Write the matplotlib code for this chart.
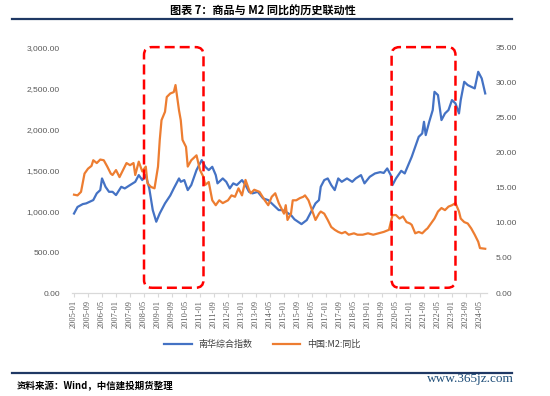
import matplotlib
matplotlib.use("Agg")
import matplotlib.pyplot as plt
from matplotlib.patches import FancyBboxPatch
import numpy as np

plt.rcParams['font.family'] = ['Noto Sans CJK SC', 'DejaVu Sans']

# 南华综合指数 (left axis)
nanhua_dates = ["2005-01", "2005-03", "2005-06", "2005-08", "2005-10", "2005-12", "2006-02", "2006-04",
                "2006-05", "2006-07", "2006-09", "2006-11", "2007-01", "2007-04", "2007-06", "2007-09",
                "2007-12", "2008-02", "2008-04", "2008-06", "2008-08", "2008-10", "2008-12", "2009-02",
                "2009-05", "2009-08", "2009-10", "2010-01", "2010-02", "2010-04", "2010-06", "2010-08",
                "2010-11", "2011-02", "2011-04", "2011-06", "2011-08", "2011-10", "2011-11", "2012-02",
                "2012-04", "2012-06", "2012-08", "2012-10", "2013-01", "2013-03", "2013-05", "2013-07",
                "2013-10", "2014-01", "2014-04", "2014-07", "2014-10", "2014-12", "2015-02", "2015-05",
                "2015-07", "2015-11", "2016-02", "2016-05", "2016-07", "2016-09", "2016-10", "2016-12",
                "2017-02", "2017-04", "2017-06", "2017-08", "2017-10", "2018-01", "2018-04", "2018-06",
                "2018-09", "2018-11", "2019-02", "2019-05", "2019-08", "2019-10", "2019-12", "2020-02",
                "2020-03", "2020-05", "2020-08", "2020-10", "2020-12", "2021-02", "2021-04", "2021-06",
                "2021-08", "2021-09", "2021-10", "2021-12", "2022-02", "2022-03", "2022-05", "2022-07",
                "2022-09", "2022-11", "2023-01", "2023-03", "2023-05", "2023-06", "2023-08", "2023-10",
                "2023-12", "2024-02", "2024-04", "2024-06", "2024-08"]
nanhua_vals = [970, 1050, 1085, 1094, 1114, 1134, 1216, 1256,
               1398, 1296, 1235, 1235, 1195, 1296, 1276, 1317,
               1357, 1439, 1378, 1439, 1276, 1012, 870, 972,
               1094, 1190, 1276, 1398, 1357, 1378, 1256, 1317,
               1500, 1622, 1540, 1500, 1540, 1439, 1338, 1398,
               1357, 1276, 1338, 1317, 1378, 1317, 1235, 1216,
               1235, 1155, 1134, 1073, 1012, 1012, 991, 951,
               899, 841, 890, 1012, 1094, 1134, 1296, 1378,
               1398, 1317, 1256, 1398, 1357, 1398, 1357, 1398,
               1439, 1338, 1418, 1459, 1475, 1465, 1520, 1439,
               1317, 1398, 1491, 1459, 1561, 1662, 1784, 1906,
               1947, 2089, 1927, 2089, 2232, 2455, 2415, 2110,
               2191, 2232, 2354, 2313, 2191, 2354, 2577, 2537,
               2516, 2496, 2699, 2618, 2435]

# 中国:M2:同比 (right axis, %)
m2_dates = ["2005-01", "2005-03", "2005-05", "2005-07", "2005-09", "2005-11", "2005-12", "2006-02",
            "2006-04", "2006-06", "2006-08", "2006-10", "2006-11", "2007-01", "2007-03", "2007-05",
            "2007-07", "2007-09", "2007-11", "2007-12", "2008-02", "2008-04", "2008-06", "2008-07",
            "2008-09", "2008-11", "2009-01", "2009-02", "2009-03", "2009-05", "2009-06", "2009-08",
            "2009-10", "2009-11", "2010-01", "2010-02", "2010-03", "2010-05", "2010-06", "2010-08",
            "2010-11", "2011-01", "2011-03", "2011-04", "2011-06", "2011-08", "2011-10", "2011-12",
            "2012-02", "2012-05", "2012-07", "2012-09", "2012-11", "2013-01", "2013-03", "2013-05",
            "2013-06", "2013-08", "2013-11", "2014-02", "2014-04", "2014-06", "2014-08", "2014-10",
            "2015-01", "2015-02", "2015-03", "2015-05", "2015-06", "2015-08", "2015-10", "2015-12",
            "2016-01", "2016-03", "2016-05", "2016-07", "2016-09", "2016-10", "2016-12", "2017-02",
            "2017-04", "2017-06", "2017-08", "2017-10", "2017-12", "2018-02", "2018-05", "2018-07",
            "2018-10", "2019-01", "2019-04", "2019-07", "2019-10", "2020-01", "2020-03", "2020-05",
            "2020-07", "2020-09", "2020-11", "2021-01", "2021-02", "2021-04", "2021-06", "2021-08",
            "2021-10", "2021-11", "2022-01", "2022-03", "2022-05", "2022-07", "2022-09", "2022-11",
            "2023-01", "2023-03", "2023-05", "2023-06", "2023-08", "2023-10", "2023-12", "2024-02",
            "2024-04", "2024-05", "2024-08"]
m2_vals = [14.0, 13.9, 14.4, 17.0, 17.7, 18.1, 18.9, 18.5,
           19.0, 18.9, 18.0, 17.0, 16.8, 17.5, 16.5, 17.5,
           18.5, 18.2, 18.5, 16.8, 18.7, 17.3, 18.0, 15.6,
           15.1, 14.9, 18.0, 21.8, 24.6, 25.8, 27.9, 28.4,
           28.6, 29.6, 26.0, 24.6, 21.8, 20.8, 18.0, 18.9,
           19.6, 17.5, 16.5, 15.4, 15.8, 13.2, 12.5, 13.2,
           12.8, 13.2, 13.9, 13.7, 14.9, 13.9, 16.1, 14.7,
           14.2, 14.7, 14.4, 13.2, 12.5, 13.7, 14.2, 12.8,
           11.3, 12.5, 10.4, 11.3, 13.2, 13.2, 13.5, 13.7,
           13.9, 13.2, 11.8, 10.4, 11.3, 11.6, 11.3, 10.4,
           9.4, 9.0, 8.7, 8.5, 8.7, 8.3, 8.5, 8.3,
           8.3, 8.5, 8.3, 8.5, 8.7, 9.0, 11.1, 11.1,
           10.6, 10.9, 10.1, 9.9, 9.7, 8.5, 8.7, 8.5,
           9.0, 9.2, 9.9, 10.6, 11.6, 12.1, 11.8, 12.3,
           12.5, 12.8, 11.6, 10.6, 10.1, 9.9, 9.2, 8.3,
           7.3, 6.4, 6.3]


def month_index(dates):
    return np.array([(int(d[:4]) - 2005) * 12 + int(d[5:]) - 1 for d in dates])


blue = "#4472C4"
orange = "#ED7D31"
navy = "#1F3864"

fig = plt.figure(figsize=(5.5, 3.96), dpi=100)
ax = fig.add_axes([0.1314, 0.260, 0.754, 0.621])
ax2 = ax.twinx()

ax.plot(month_index(nanhua_dates), nanhua_vals, color=blue, lw=1.6, label="南华综合指数")
ax2.plot(month_index(m2_dates), m2_vals, color=orange, lw=1.6, label="中国:M2:同比")

ax.set_xlim(-1, 236)
ax.set_ylim(0, 3000)
ax2.set_ylim(0, 35)
ax.set_yticks(np.arange(0, 3001, 500))
ax.set_yticklabels([f"{v:,.2f}" for v in np.arange(0, 3001, 500)])
ax2.set_yticks(np.arange(0, 36, 5))
ax2.set_yticklabels([f"{v:.2f}" for v in np.arange(0, 36, 5)])

ticks = np.arange(0, 236, 8)
ax.set_xticks(ticks)
ax.set_xticklabels([f"{2005 + m // 12}-{m % 12 + 1:02d}" for m in ticks], rotation=90,
                   family="Liberation Serif", fontsize=6, color="#595959")

for a in (ax, ax2):
    for s in ("top", "left", "right"):
        a.spines[s].set_visible(False)
    a.spines["bottom"].set_color("#D9D9D9")
    a.tick_params(axis="y", length=0, labelsize=6, labelcolor="#595959")
ax.tick_params(axis="y", pad=9)
ax2.tick_params(axis="y", pad=6)
ax.tick_params(axis="x", length=3, color="#D9D9D9", pad=2)
for lab in ax.get_yticklabels() + ax2.get_yticklabels():
    lab.set_family("Liberation Sans")

# red dashed rounded boxes
for x0, x1 in [(40, 74), (181.5, 218)]:
    box = FancyBboxPatch((x0, 0.75), x1 - x0, 34.25,
                         boxstyle="round,pad=0,rounding_size=4.5",
                         mutation_aspect=0.249, fill=False, ec="#FF0000",
                         lw=1.8, ls=(0, (4, 2)), clip_on=False, zorder=5)
    ax2.add_patch(box)

h1, l1 = ax.get_legend_handles_labels()
h2, l2 = ax2.get_legend_handles_labels()
fig.legend(h1 + h2, l1 + l2, loc="center", bbox_to_anchor=(0.477, 0.131), ncol=2,
           frameon=False, fontsize=6.5, handlelength=3, columnspacing=2.2,
           labelcolor="#404040")

fig.text(0.478, 0.972, "图表 7：商品与 M2 同比的历史联动性", ha="center", va="center",
         fontsize=8, fontweight="bold")
fig.add_artist(plt.Line2D([0.022, 0.931], [0.952, 0.952], color=navy, lw=1.6))
fig.add_artist(plt.Line2D([0.022, 0.931], [0.058, 0.058], color=navy, lw=1.6))
fig.text(0.03, 0.026, "资料来源：Wind，中信建投期货整理", ha="left", va="center",
         fontsize=6.8, fontweight="bold", fontstyle="italic")
fig.text(0.935, 0.042, "www.365jz.com", ha="right", va="center",
         fontsize=9.5, family="Liberation Serif", color="#1F4E79")

fig.savefig("out.png", dpi=100)
